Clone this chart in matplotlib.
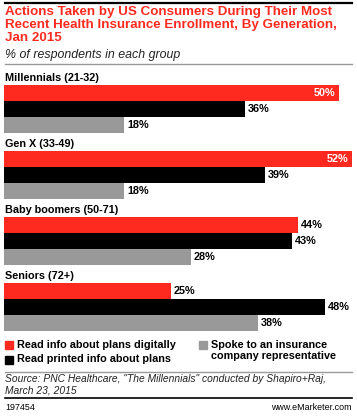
import matplotlib
matplotlib.use("Agg")
from matplotlib import pyplot as plt
from matplotlib.lines import Line2D
from matplotlib.patches import Rectangle

groups = ["Millennials (21-32)", "Gen X (33-49)", "Baby boomers (50-71)", "Seniors (72+)"]
series = ["Read info about plans digitally", "Read printed info about plans",
          "Spoke to an insurance\ncompany representative"]
digital = [50, 52, 44, 25]
printed = [36, 39, 43, 48]
spoke = [18, 18, 28, 38]
colors = ["#ff2a1f", "#000000", "#999999"]

W, H = 357, 416
plt.rcParams['font.family'] = ['Liberation Sans', 'DejaVu Sans']
fig = plt.figure(figsize=(W / 100, H / 100), dpi=100)


def fy(py):
    return 1 - py / H


def fx(px):
    return px / W


# header
fig.add_artist(Line2D([fx(5), fx(352)], [fy(3), fy(3)], color='black', lw=1.6))
fig.text(fx(5), fy(6.5), "Actions Taken by US Consumers During Their Most\n"
         "Recent Health Insurance Enrollment, By Generation,\nJan 2015",
         color='#ff2a1f', fontsize=9.6, fontweight='bold', va='top', ha='left',
         linespacing=1.1)
fig.text(fx(5), fy(55), "% of respondents in each group", fontsize=8.9,
         style='italic', va='center', ha='left', color='#222222')
fig.add_artist(Line2D([fx(5), fx(352)], [fy(64), fy(64)], color='#999999', lw=1))

# bars: axes in pixel units
top, bottom = 70, 333
ax = fig.add_axes([fx(4), fy(bottom), fx(352), (bottom - top) / H])
ax.set_xlim(0, 52.6)
ax.set_ylim(bottom, top)
ax.axis('off')

pitch, bh = 66, 16
first = 85
for i, g in enumerate(groups):
    y0 = first + i * pitch
    ax.text(0.1, y0 - 7, g, fontsize=7.8, fontweight='bold', va='center', ha='left')
    for j, vals in enumerate([digital, printed, spoke]):
        v = vals[i]
        yc = y0 + j * bh + bh / 2
        ax.barh(yc, v, height=bh, color=colors[j], edgecolor='none')
        if v >= 49:
            ax.text(v - 0.5, yc, f"{v}%", color='white', fontsize=7.8,
                    fontweight='bold', va='center', ha='right')
        else:
            ax.text(v + 0.4, yc, f"{v}%", color='black', fontsize=7.8,
                    fontweight='bold', va='center', ha='left')

# legend
leg = [(5, 345, 0), (5, 360, 1), (199, 345, 2)]
for x, y, k in leg:
    fig.add_artist(Rectangle((fx(x), fy(y + 4)), fx(8), 8 / H, color=colors[k],
                             transform=fig.transFigure))
    fig.text(fx(x + 12), fy(y - 5.5), series[k], fontsize=7.8, fontweight='bold',
             va='top', ha='left', linespacing=1.2)

fig.add_artist(Line2D([fx(5), fx(352)], [fy(372), fy(372)], color='#999999', lw=1))
fig.text(fx(5), fy(374), 'Source: PNC Healthcare, "The Millennials" conducted by Shapiro+Raj,\n'
         'March 23, 2015', fontsize=7.4, style='italic', va='top', ha='left',
         color='#222222', linespacing=1.15)
fig.add_artist(Line2D([fx(5), fx(352)], [fy(398), fy(398)], color='black', lw=1.2))
fig.text(fx(5), fy(407), "197454", fontsize=6.4, va='center', ha='left')
fig.text(fx(352), fy(407), "www.eMarketer.com", fontsize=6.4, va='center', ha='right')

fig.savefig("out.png", dpi=100)
